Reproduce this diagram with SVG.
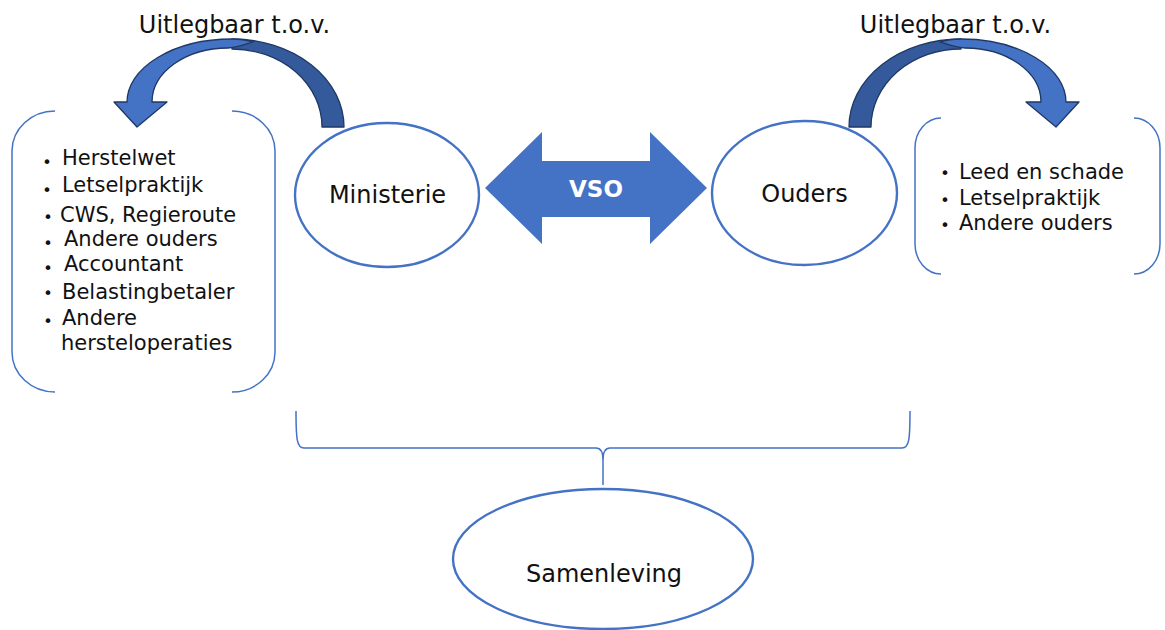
<svg xmlns="http://www.w3.org/2000/svg" xmlns:xlink="http://www.w3.org/1999/xlink" width="1165" height="630" viewBox="0 0 1165 630">
<style>
  .txt { font-family: "DejaVu Sans", Verdana, sans-serif; fill: #111; }
  .lbl { font-size: 24px; }
  .item { font-size: 21px; }
  .bul { font-size: 16px; text-anchor: middle; }
  .node { fill: #fff; stroke: #4472C4; stroke-width: 2.4; }
  .brk { fill: none; stroke: #4472C4; stroke-width: 1.5; }
  .arrLight { fill: #4472C4; stroke: #1F3864; stroke-width: 1.3; stroke-linejoin: round; }
  .arrDark { fill: #345A9C; stroke: #1F3864; stroke-width: 1.3; stroke-linejoin: round; }
</style>
<defs>
  <g id="curvedArrow">
    <path class="arrDark" d="M344,127 A112,88 0 0 0 232,39 L232,49 A90,78 0 0 1 322,127 Z"/>
    <path class="arrLight" d="M114,102 L127,102 A105,63 0 0 1 232,39 C241,39 247,40 253,42 C243,45 235,48 228,48 A76,54 0 0 0 152,102 L167,102 L137,127 Z"/>
  </g>
</defs>
<rect width="1165" height="630" fill="#fff"/>

<g id="connectors">
  <use id="arrow-left" href="#curvedArrow"/>
  <use id="arrow-right" href="#curvedArrow" transform="matrix(-1 0 0 1 1193 0)"/>
  <g id="vso">
    <path d="M485,188 L542,132 L542,161 L650,161 L650,132 L707,188 L650,244 L650,217 L542,217 L542,244 Z" fill="#4472C4"/>
    <text x="596" y="197" text-anchor="middle" font-family="'DejaVu Sans', Verdana, sans-serif" font-weight="bold" font-size="23" fill="#fff">VSO</text>
  </g>
  <path id="bracket" class="brk" d="M296,411 C296,440 297,448 304,448 L596,448 C601,448 603,452 603,460 L603,485 M603,460 C603,452 605,448 610,448 L902,448 C909,448 910,440 910,411"/>
</g>

<g id="label-left">
  <text class="txt lbl" x="234.5" y="33" text-anchor="middle">Uitlegbaar t.o.v.</text>
</g>
<g id="label-right">
  <text class="txt lbl" x="955.5" y="33" text-anchor="middle">Uitlegbaar t.o.v.</text>
</g>

<g id="node-ministerie">
  <ellipse class="node" cx="387" cy="195" rx="92" ry="72"/>
  <text class="txt lbl" x="387.5" y="203" text-anchor="middle">Ministerie</text>
</g>

<g id="node-ouders">
  <ellipse class="node" cx="804.5" cy="193" rx="92.5" ry="72"/>
  <text class="txt lbl" x="804.5" y="202" text-anchor="middle">Ouders</text>
</g>

<g id="node-samenleving">
  <ellipse class="node" cx="603" cy="559" rx="150" ry="70"/>
  <text class="txt lbl" x="604" y="582" text-anchor="middle">Samenleving</text>
</g>

<g id="list-left">
  <path class="brk" d="M55,111 A43,40 0 0 0 12,151 L12,352 A43,40 0 0 0 55,392 M232,111 A43,40 0 0 1 275,151 L275,352 A43,40 0 0 1 232,392"/>
  <text class="txt bul" x="47" y="168">•</text>
  <text class="txt item" x="62" y="165">Herstelwet</text>
  <text class="txt bul" x="47" y="196">•</text>
  <text class="txt item" x="62" y="192">Letselpraktijk</text>
  <text class="txt bul" x="48" y="223">•</text>
  <text class="txt item" x="60" y="222">CWS, Regieroute</text>
  <text class="txt bul" x="48" y="249">•</text>
  <text class="txt item" x="64" y="246">Andere ouders</text>
  <text class="txt bul" x="48" y="274">•</text>
  <text class="txt item" x="64" y="271">Accountant</text>
  <text class="txt bul" x="48" y="299">•</text>
  <text class="txt item" x="62" y="299">Belastingbetaler</text>
  <text class="txt bul" x="48" y="327">•</text>
  <text class="txt item" x="62" y="325">Andere</text>
  <text class="txt item" x="61" y="350">hersteloperaties</text>
</g>

<g id="list-right">
  <path class="brk" d="M941,118 A26,30 0 0 0 915,148 L915,244 A26,30 0 0 0 941,274 M1134,118 A26,30 0 0 1 1160,148 L1160,244 A26,30 0 0 1 1134,274"/>
  <text class="txt bul" x="945" y="179">•</text>
  <text class="txt item" x="959" y="179">Leed en schade</text>
  <text class="txt bul" x="945" y="206">•</text>
  <text class="txt item" x="959" y="205">Letselpraktijk</text>
  <text class="txt bul" x="945" y="231">•</text>
  <text class="txt item" x="959" y="230">Andere ouders</text>
</g>
</svg>
